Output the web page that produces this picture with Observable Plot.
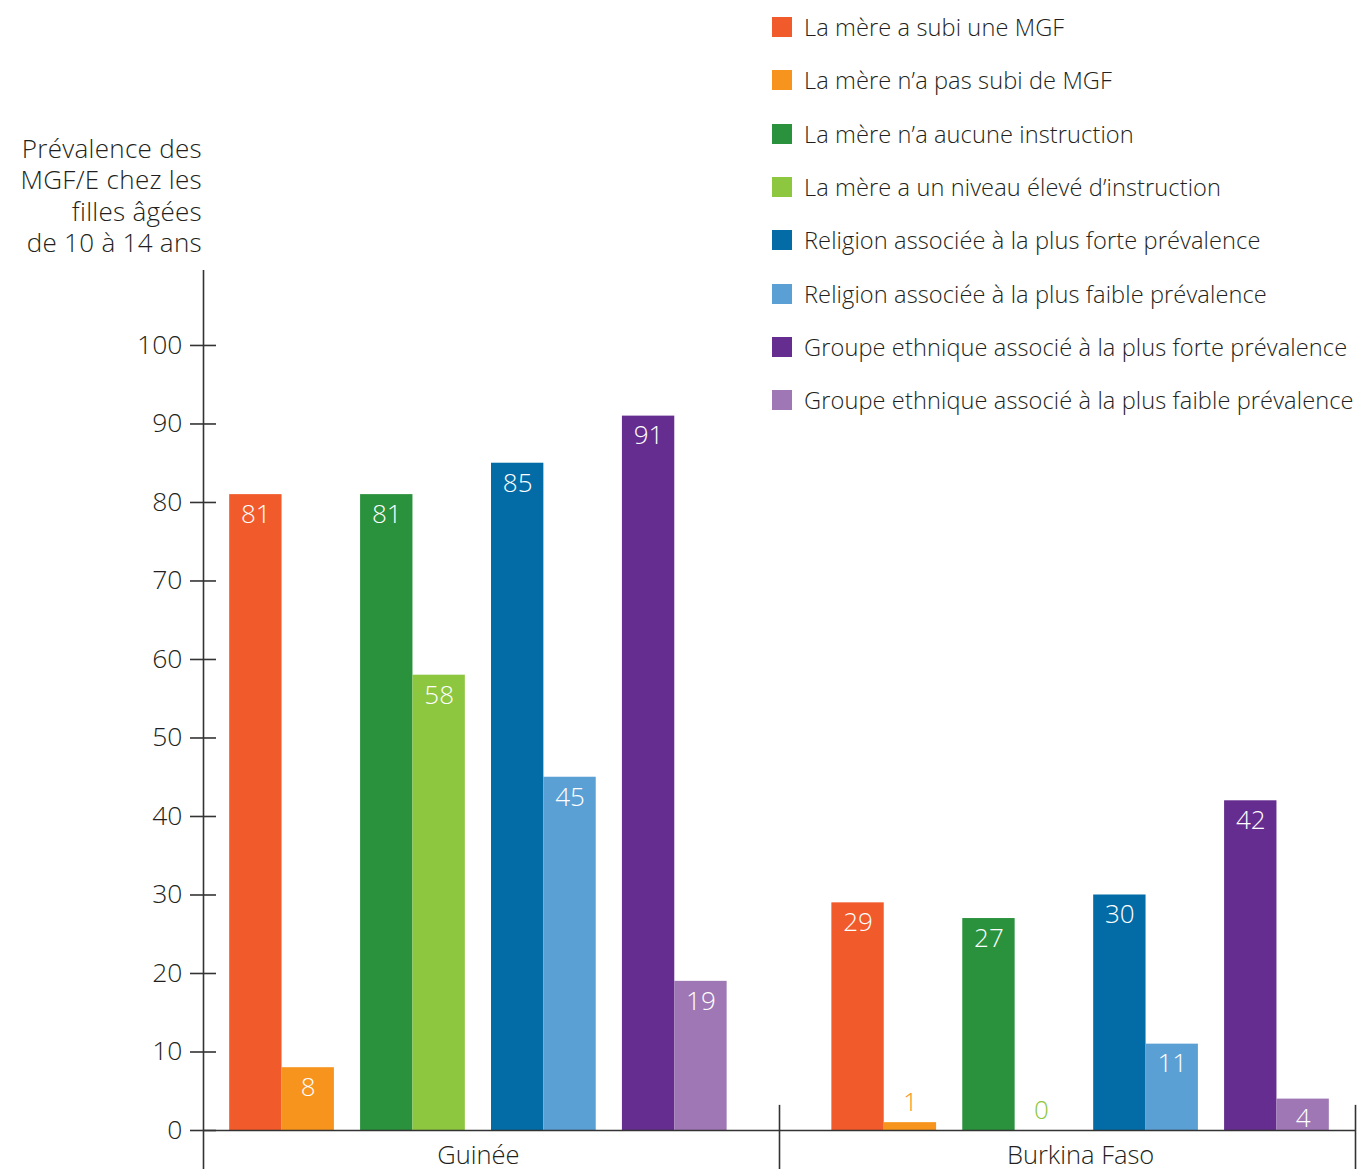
<!DOCTYPE html>
<html>
<head>
<meta charset="utf-8">
<script src="https://cdn.jsdelivr.net/npm/d3@7"></script>
<script src="https://cdn.jsdelivr.net/npm/@observablehq/plot@0.6"></script>
<style>
  html, body { margin: 0; padding: 0; background: #fff; }
  body { font-family: "Open Sans", sans-serif; font-weight: 300; color: #231f20; }
  #wrap { position: relative; width: 1358px; height: 1169px; }
  #chart { position: absolute; left: 0; top: 0; }
  #ytitle { position: absolute; left: 0; top: 133px; width: 202px; text-align: right; font-size: 26px; letter-spacing: 0.3px; line-height: 31.3px; }
  #legend { position: absolute; left: 772px; top: 0; }
  .row { position: absolute; left: 0; white-space: nowrap; font-size: 23.6px; letter-spacing: 0.1px; display: flex; align-items: center; height: 30px; }
  .sw { width: 20px; height: 20px; margin-right: 12px; flex: none; }
</style>
</head>
<body>
<div id="wrap">
  <div id="chart"></div>
  <div id="ytitle">Prévalence des<br>MGF/E chez les<br>filles âgées<br>de 10 à 14 ans</div>
  <div id="legend"></div>
</div>
<script>
// ---- Data ----
const countries = ["Guinée", "Burkina Faso"];
const series = [
  "La mère a subi une MGF",
  "La mère n’a pas subi de MGF",
  "La mère n’a aucune instruction",
  "La mère a un niveau élevé d’instruction",
  "Religion associée à la plus forte prévalence",
  "Religion associée à la plus faible prévalence",
  "Groupe ethnique associé à la plus forte prévalence",
  "Groupe ethnique associé à la plus faible prévalence"
];
const colors = ["#f15a2b", "#f7941e", "#2a913d", "#8dc63f", "#036ca7", "#5ba0d4", "#652d8f", "#9e77b4"];
const guineeValues = [81, 8, 81, 58, 85, 45, 91, 19];
const burkinaValues = [29, 1, 27, 0, 30, 11, 42, 4];
const yTicks = [0, 10, 20, 30, 40, 50, 60, 70, 80, 90, 100];

// ---- Layout (in bar-width units) ----
const groupStarts = [0.5, 12.0];
const groupEdges = [0, 11, 22];
const pairGap = 0.5;
const yMax = 109.55;

const valuesByCountry = [guineeValues, burkinaValues];
const rows = [];
countries.forEach((c, g) => {
  series.forEach((s, i) => {
    const pair = Math.floor(i / 2), m = i % 2;
    const x1 = groupStarts[g] + pair * (2 + pairGap) + m;
    rows.push({country: c, series: s, value: valuesByCountry[g][i], x1, x2: x1 + 1, xm: x1 + 0.5});
  });
});
const groupLabels = countries.map((c, g) => ({country: c, x: groupStarts[g] + (4 * 2 + 3 * pairGap) / 2}));

const ink = "#231f20";
const lineColor = "#333";

const chart = Plot.plot({
  width: 1358,
  height: 1169,
  marginLeft: 203,
  marginRight: 3,
  marginTop: 270,
  marginBottom: 39,
  style: {fontFamily: "'Open Sans', sans-serif", fontWeight: 300, color: ink, background: "transparent"},
  x: {domain: [0, 22], axis: null},
  y: {domain: [0, yMax], axis: null},
  color: {domain: series, range: colors},
  marks: [
    Plot.rect(rows, {x1: "x1", x2: "x2", y1: 0, y2: "value", fill: "series"}),
    Plot.text(rows.filter(d => d.value >= 3), {x: "xm", y: "value", text: d => String(d.value), dy: 20, fill: "white", fontSize: 26, fontWeight: 300}),
    Plot.text(rows.filter(d => d.value < 3), {x: "xm", y: "value", text: d => String(d.value), dy: -20, fill: "series", fontSize: 26, fontWeight: 300}),
    Plot.ruleX([0], {y1: -5, y2: yMax, stroke: lineColor, strokeWidth: 1.6}),
    Plot.ruleX(groupEdges.slice(1), {y1: -5, y2: 3.2, stroke: lineColor, strokeWidth: 1.6}),
    Plot.ruleY([0], {stroke: lineColor, strokeWidth: 1.6}),
    Plot.axisY({ticks: yTicks, tickSize: 26, dx: 13, text: null, label: null, stroke: lineColor, strokeWidth: 1.6}),
    Plot.axisY({ticks: yTicks, tickSize: 0, tickPadding: 21, label: null, fontSize: 26.5, fill: ink, tickFormat: d => String(d)}),
    Plot.text(groupLabels, {x: "x", y: 0, text: "country", dy: 25, fontSize: 25.5, fill: ink})
  ]
});
document.getElementById("chart").appendChild(chart);

// ---- Legend ----
const legend = document.getElementById("legend");
const legendTop = 12, legendStep = 53.3;
series.forEach((s, i) => {
  const row = document.createElement("div");
  row.className = "row";
  row.style.top = (legendTop + i * legendStep) + "px";
  const sw = document.createElement("span");
  sw.className = "sw";
  sw.style.background = colors[i];
  const t = document.createElement("span");
  t.textContent = s;
  row.appendChild(sw);
  row.appendChild(t);
  legend.appendChild(row);
});
</script>
</body>
</html>
